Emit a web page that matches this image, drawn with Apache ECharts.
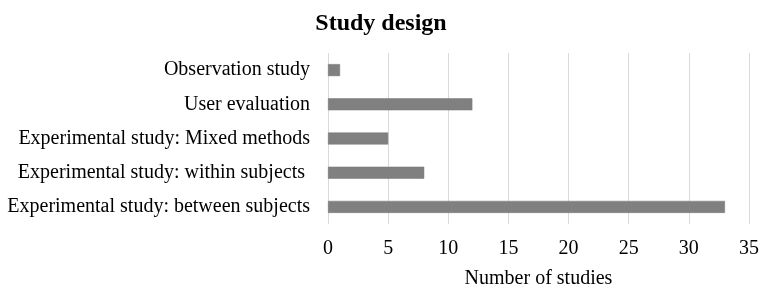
<!DOCTYPE html>
<html>
<head>
<meta charset="utf-8">
<script src="https://cdn.jsdelivr.net/npm/echarts@6/dist/echarts.min.js"></script>
<style>
  html, body { margin: 0; padding: 0; background: #fff; }
  #chart { width: 762px; height: 294px; }
</style>
</head>
<body>
<div id="chart"></div>
<script>
// categories listed bottom to top
const categories = [
  "Experimental study: between subjects",
  "Experimental study: within subjects ",
  "Experimental study: Mixed methods",
  "User evaluation",
  "Observation study"
];
const studyCounts = [33, 8, 5, 12, 1];
const xTicks = [0, 5, 10, 15, 20, 25, 30, 35];

const chart = echarts.init(document.getElementById("chart"));
const font = "'Liberation Serif', 'Times New Roman', serif";

const option = {
  animation: false,
  title: {
    text: "Study design",
    left: "center",
    top: 7,
    textStyle: { fontFamily: font, fontSize: 24, fontWeight: "bold", color: "#000" }
  },
  grid: { left: 328, right: 11, top: 53, bottom: 66 },
  xAxis: {
    type: "value",
    min: xTicks[0],
    max: xTicks[xTicks.length - 1],
    interval: 5,
    name: "Number of studies",
    nameLocation: "middle",
    nameGap: 45,
    nameTextStyle: { fontFamily: font, fontSize: 20, color: "#000" },
    axisLine: { show: false },
    axisTick: { show: false },
    axisLabel: { fontFamily: font, fontSize: 20, color: "#000", margin: 15 },
    splitLine: { show: true, lineStyle: { color: "#d9d9d9", width: 1 } }
  },
  yAxis: {
    type: "category",
    data: categories,
    axisLine: { show: false },
    axisTick: { show: false },
    axisLabel: { fontFamily: font, fontSize: 20, color: "#000", margin: 18 }
  },
  series: [
    {
      type: "bar",
      data: studyCounts,
      barWidth: 12,
      itemStyle: { color: "#808080", borderColor: "#777", borderWidth: 0.5 }
    }
  ]
};

chart.setOption(option);
</script>
</body>
</html>
